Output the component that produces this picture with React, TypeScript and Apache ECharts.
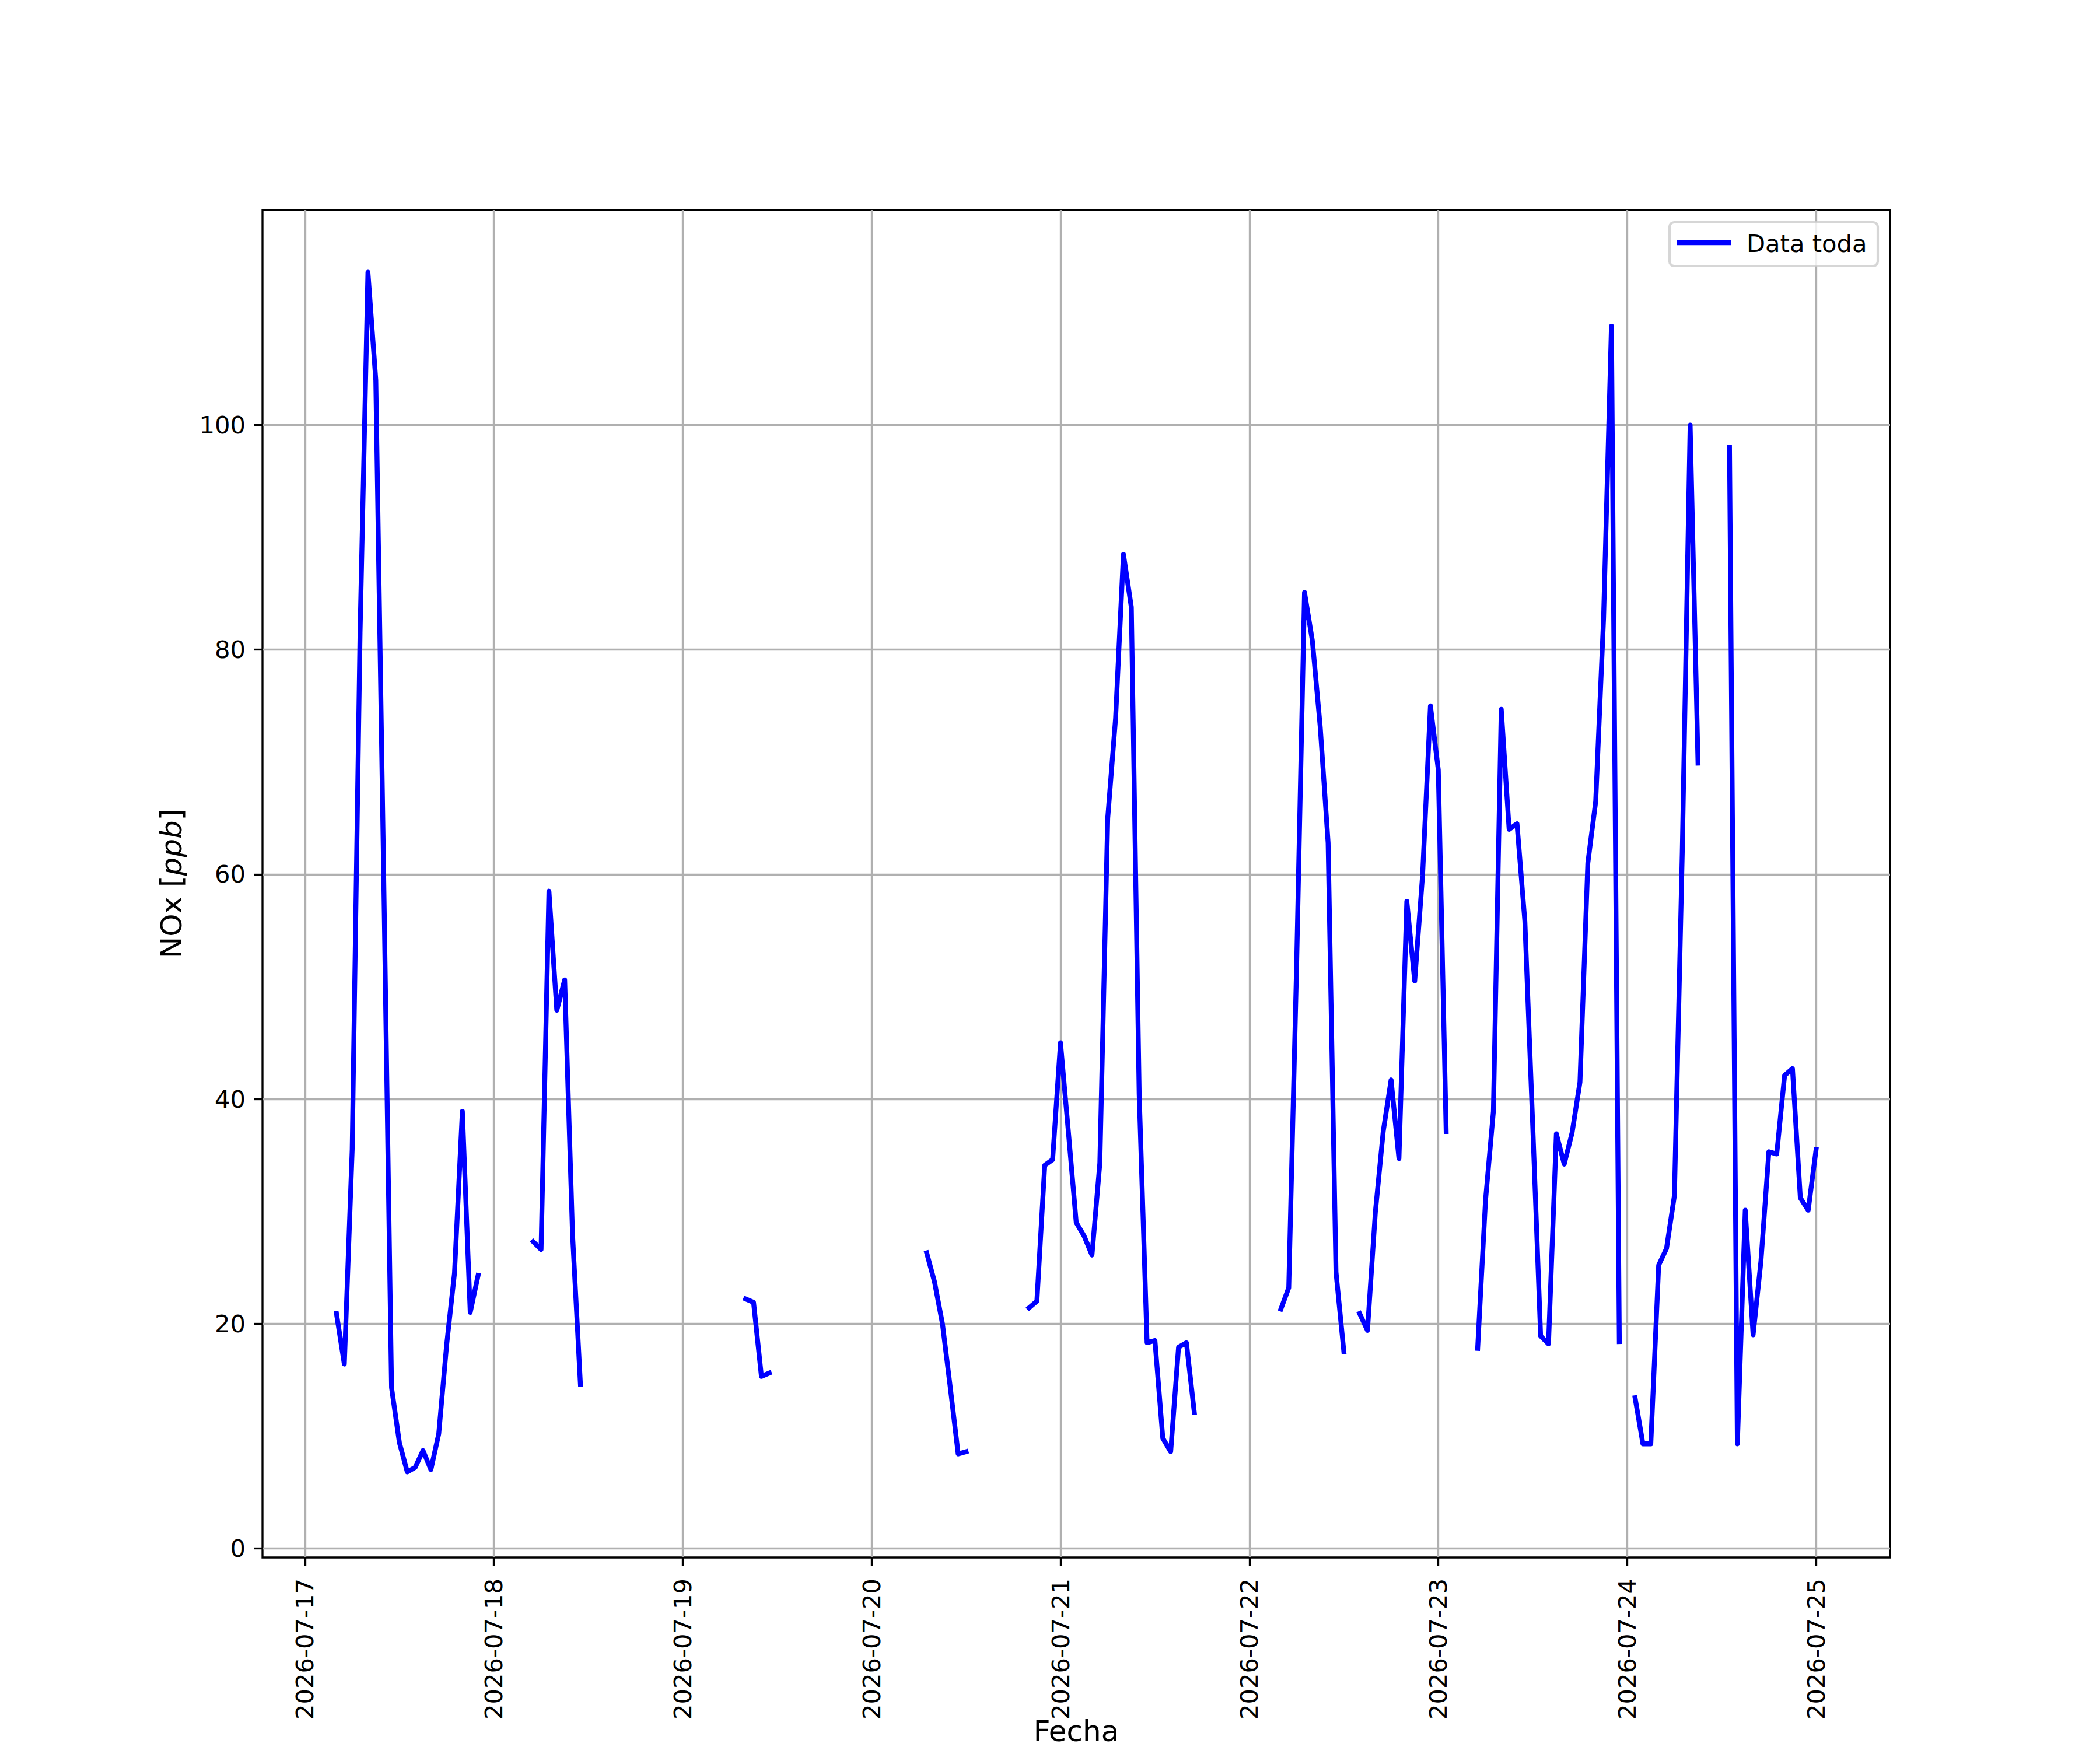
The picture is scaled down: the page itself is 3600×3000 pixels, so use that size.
import React, { useEffect, useRef } from "react";
import * as echarts from "echarts";

// ---- data ----
const START_TIME = "2026-07-17T04:00:00Z"; // first hourly sample
const STEP_HOURS = 1;
// hourly NOx values (ppb); null = no data (gap)
const noxValues: (number | null)[] = [
  // 07-17 04h .. 22h
  20.9, 16.4, 35.5, 81.5, 113.6, 104.0, 60.0, 14.3, 9.4, 6.8, 7.2, 8.7, 7.0, 10.2, 18.1, 24.5, 38.9, 21.0, 24.3,
  // 07-17 23h .. 07-18 04h
  null, null, null, null, null, null,
  // 07-18 05h .. 11h
  27.3, 26.6, 58.5, 47.9, 50.6, 27.9, 14.6,
  // 07-18 12h .. 07-19 07h
  null, null, null, null, null, null, null, null, null, null,
  null, null, null, null, null, null, null, null, null, null,
  // 07-19 08h .. 11h
  22.2, 21.9, 15.3, 15.6,
  // 07-19 12h .. 07-20 06h
  null, null, null, null, null, null, null, null, null, null,
  null, null, null, null, null, null, null, null, null,
  // 07-20 07h .. 12h
  26.3, 23.7, 20.0, 14.3, 8.4, 8.6,
  // 07-20 13h .. 19h
  null, null, null, null, null, null, null,
  // 07-20 20h .. 07-21 17h
  21.4, 22.0, 34.1, 34.6, 45.0, 37.1, 29.0, 27.8, 26.1, 34.3, 65.0, 73.9, 88.5, 83.8, 40.4, 18.3, 18.5, 9.8, 8.6, 17.9, 18.3, 12.1,
  // 07-21 18h .. 07-22 03h
  null, null, null, null, null, null, null, null, null, null,
  // 07-22 04h .. 12h
  21.3, 23.2, 52.0, 85.1, 80.8, 73.1, 62.8, 24.6, 17.5,
  // 07-22 13h
  null,
  // 07-22 14h .. 07-23 01h
  20.9, 19.4, 29.9, 37.1, 41.7, 34.7, 57.6, 50.5, 59.9, 75.0, 69.3, 37.1,
  // 07-23 02h .. 04h
  null, null, null,
  // 07-23 05h .. 23h
  17.8, 31.0, 38.9, 74.7, 64.0, 64.5, 55.8, 37.6, 18.9, 18.2, 36.9, 34.2, 37.0, 41.5, 61.0, 66.5, 82.8, 108.8, 18.4,
  // 07-24 00h
  null,
  // 07-24 01h .. 09h
  13.4, 9.3, 9.3, 25.2, 26.7, 31.4, 62.0, 100.0, 69.9,
  // 07-24 10h .. 12h
  null, null, null,
  // 07-24 13h .. 07-25 00h
  98.0, 9.3, 30.1, 19.0, 25.6, 35.3, 35.1, 42.1, 42.7, 31.2, 30.1, 35.5,
];

const dateTickLabels = [
  "2026-07-17", "2026-07-18", "2026-07-19", "2026-07-20", "2026-07-21",
  "2026-07-22", "2026-07-23", "2026-07-24", "2026-07-25",
];
const yTickValues = [0, 20, 40, 60, 80, 100];
const Y_MIN = -0.815;
const Y_MAX = 119.14;

const seriesName = "Data toda";
const xAxisTitle = "Fecha";
const yAxisTitleMain = "NOx [";
const yAxisTitleItalic = "ppb";
const yAxisTitleEnd = "]";

// ---- styles ----
const FONT = "DejaVu Sans";
const TICK_FS = 41.67;
const LABEL_FS = 50;
const LW = 3.33;
const DATA_LW = 8.33;

export default function App() {
  const ref = useRef<HTMLDivElement>(null);

  useEffect(() => {
    if (!ref.current) return;
    const chart = echarts.init(ref.current, undefined, { renderer: "svg" });

    const HOUR = 3600 * 1000;
    const t0 = Date.parse(START_TIME);
    const data = noxValues.map((v, i) => [t0 + i * STEP_HOURS * HOUR, v === null ? "-" : v]);
    const tFirst = t0;
    const tLast = t0 + (noxValues.length - 1) * STEP_HOURS * HOUR;
    const span = tLast - tFirst;
    const xMin = tFirst - 0.05 * span;
    const xMax = tLast + 0.05 * span;
    const xTicks = dateTickLabels.map((s) => Date.parse(s + "T00:00:00Z"));

    const gl = { left: 450, top: 360, width: 2790, height: 2310 };

    const option: any = {
      animation: false,
      backgroundColor: "#ffffff",
      grid: {
        left: gl.left,
        top: gl.top,
        width: gl.width,
        height: gl.height,
        show: true,
        borderColor: "#000000",
        borderWidth: LW,
        backgroundColor: "transparent",
        containLabel: false,
        outerBoundsMode: "none",
      },
      xAxis: {
        type: "value",
        min: xMin,
        max: xMax,
        axisLine: { show: false, onZero: false },
        axisTick: {
          show: true,
          inside: false,
          length: 14.6,
          customValues: xTicks,
          lineStyle: { color: "#000000", width: LW },
        },
        axisLabel: {
          show: true,
          customValues: xTicks,
          rotate: 90,
          margin: 36,
          color: "#000000",
          fontFamily: FONT,
          fontSize: TICK_FS,
          formatter: (v: number) => {
            const idx = xTicks.indexOf(v);
            return idx >= 0 ? dateTickLabels[idx] : "";
          },
        },
        splitLine: { show: true, lineStyle: { color: "#b0b0b0", width: LW } },
      },
      yAxis: {
        type: "value",
        min: Y_MIN,
        max: Y_MAX,
        axisLine: { show: false, onZero: false },
        axisTick: {
          show: true,
          inside: false,
          length: 14.6,
          customValues: yTickValues,
          lineStyle: { color: "#000000", width: LW },
        },
        axisLabel: {
          show: true,
          customValues: yTickValues,
          margin: 29,
          color: "#000000",
          fontFamily: FONT,
          fontSize: TICK_FS,
          formatter: (v: number) => String(v),
        },
        splitLine: { show: true, lineStyle: { color: "#b0b0b0", width: LW } },
      },
      series: [
        {
          name: seriesName,
          type: "line",
          data,
          showSymbol: false,
          connectNulls: false,
          silent: true,
          lineStyle: { color: "#0000ff", width: DATA_LW, cap: "square", join: "round" },
          itemStyle: { color: "#0000ff" },
        },
      ],
      graphic: [
        {
          type: "text",
          x: 1845,
          y: 2968,
          style: {
            text: xAxisTitle,
            fontFamily: FONT,
            fontSize: LABEL_FS,
            fill: "#000000",
            align: "center",
            verticalAlign: "middle",
          },
        },
        {
          type: "text",
          x: 294,
          y: 1515,
          rotation: Math.PI / 2,
          style: {
            text: "{a|" + yAxisTitleMain + "}{b|" + yAxisTitleItalic + "}{a|" + yAxisTitleEnd + "}",
            fontFamily: FONT,
            fontSize: LABEL_FS,
            fill: "#000000",
            align: "center",
            verticalAlign: "middle",
            rich: {
              a: { fontFamily: FONT, fontSize: LABEL_FS, fill: "#000000" },
              b: { fontFamily: FONT, fontSize: LABEL_FS, fontStyle: "italic", fill: "#000000" },
            },
          },
        },
        // legend box
        {
          type: "rect",
          shape: { x: 2862, y: 381, width: 357, height: 75, r: 8 },
          style: { fill: "rgba(255,255,255,0.8)", stroke: "rgba(204,204,204,0.8)", lineWidth: 4.17 },
          z: 100,
        },
        {
          type: "line",
          shape: { x1: 2875, y1: 416, x2: 2967, y2: 416 },
          style: { stroke: "#0000ff", lineWidth: DATA_LW },
          z: 101,
        },
        {
          type: "text",
          x: 2994,
          y: 417,
          style: {
            text: seriesName,
            fontFamily: FONT,
            fontSize: TICK_FS,
            fill: "#000000",
            align: "left",
            verticalAlign: "middle",
          },
          z: 101,
        },
      ],
    };

    chart.setOption(option);
    return () => {
      chart.dispose();
    };
  }, []);

  return (
    <div
      ref={ref}
      style={{ position: "absolute", left: 0, top: 0, width: 3600, height: 3000, background: "#ffffff" }}
    />
  );
}
